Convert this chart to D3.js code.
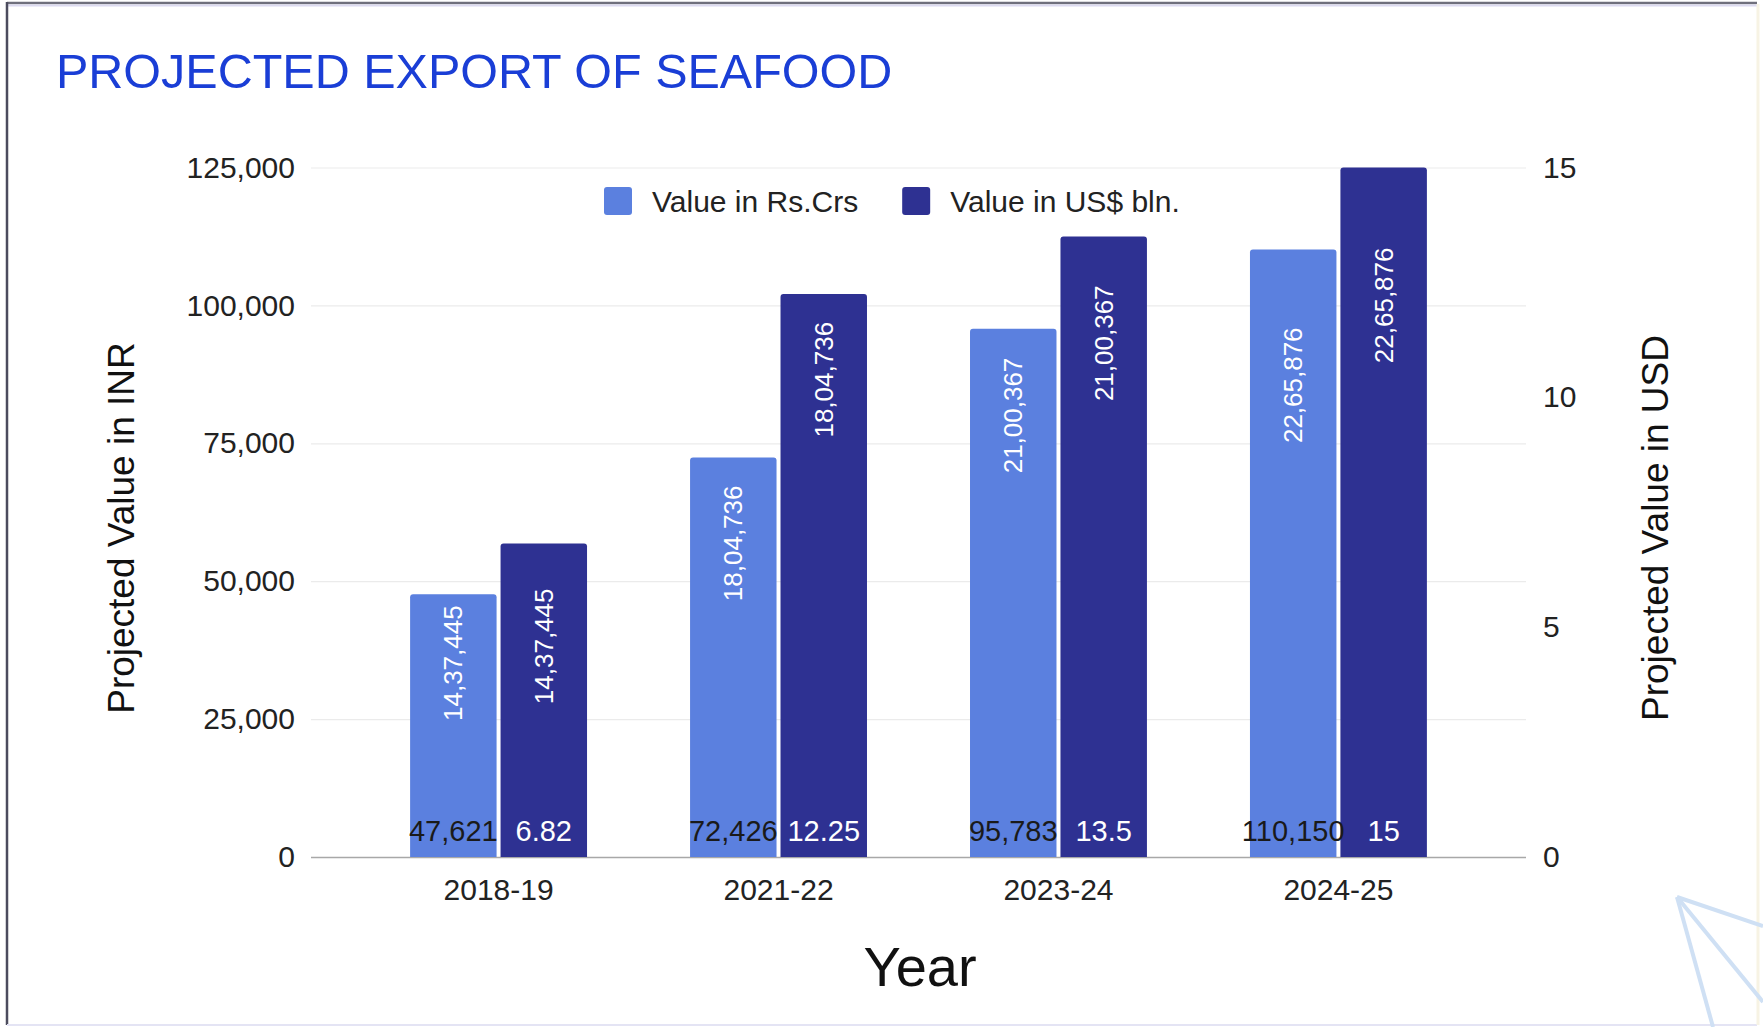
<!DOCTYPE html>
<html>
<head>
<meta charset="utf-8">
<script src="https://cdn.jsdelivr.net/npm/d3@7"></script>
<style>
  body { margin: 0; background: #fff; }
  svg { display: block; font-family: "Liberation Sans", Arial, sans-serif; }
</style>
</head>
<body>
<svg id="chart" width="1763" height="1027"></svg>
<script>
// data
var years = ["2018-19", "2021-22", "2023-24", "2024-25"];
var seriesNames = ["Value in Rs.Crs", "Value in US$ bln."];
var valueInr = [47621, 72426, 95783, 110150];
var valueUsd = [6.82, 12.25, 13.5, 15];
var annoInr = ["14,37,445", "18,04,736", "21,00,367", "22,65,876"];
var annoUsd = ["14,37,445", "18,04,736", "21,00,367", "22,65,876"];
var inrTicks = [0, 25000, 50000, 75000, 100000, 125000];
var usdTicks = [0, 5, 10, 15];

var svg = d3.select("#chart");
var W = 1763, H = 1027;

var colLight = "#5b80df", colDark = "#2e3192";

// plot box
var plotL = 311, plotR = 1526, plotT = 167.5, plotB = 857;

var x0 = d3.scaleBand().domain(years).range([plotL, plotR])
    .paddingInner(0.368).paddingOuter(0.354);
var x1 = d3.scaleBand().domain([0, 1]).range([0, x0.bandwidth()]).paddingInner(0.044);
var yL = d3.scaleLinear().domain([0, 125000]).range([plotB, plotT]);
var yR = d3.scaleLinear().domain([0, 15]).range([plotB, plotT]);

// frame of the slide
svg.append("rect").attr("x", 0).attr("y", 0).attr("width", W).attr("height", H).attr("fill", "#fff");
svg.append("line").attr("x1", 7).attr("x2", 1757).attr("y1", 3).attr("y2", 3)
    .attr("stroke", "#6f6f7c").attr("stroke-width", 2.5);
svg.append("line").attr("x1", 7).attr("x2", 1757).attr("y1", 5.5).attr("y2", 5.5)
    .attr("stroke", "#dcdaf0").attr("stroke-width", 2);
svg.append("line").attr("x1", 7).attr("x2", 7).attr("y1", 2).attr("y2", 1025)
    .attr("stroke", "#4c4c5e").attr("stroke-width", 2.5);
svg.append("line").attr("x1", 7).attr("x2", 1757).attr("y1", 1025).attr("y2", 1025)
    .attr("stroke", "#e4e4f4").attr("stroke-width", 2);
svg.append("line").attr("x1", 1758).attr("x2", 1758).attr("y1", 4).attr("y2", 1025)
    .attr("stroke", "#f7f3e4").attr("stroke-width", 3);

// paper plane decoration bottom right
var deco = svg.append("g").attr("stroke", "#cfe0f4").attr("stroke-width", 4).attr("fill", "none");
deco.append("path").attr("d", "M1677,897 L1763,926");
deco.append("path").attr("d", "M1677,897 L1713,1027");
deco.append("path").attr("d", "M1677,897 L1763,1002");

// title
svg.append("text").attr("x", 56).attr("y", 88)
    .attr("fill", "#1a3ed6").attr("font-size", 48.5)
    .text("PROJECTED EXPORT OF SEAFOOD");

// gridlines
var grid = svg.append("g").attr("transform", "translate(" + plotL + ",0)")
    .call(d3.axisLeft(yL).tickValues(inrTicks).tickSize(-(plotR - plotL)).tickFormat(""));
grid.select(".domain").remove();
grid.selectAll(".tick line").attr("stroke", function (d) { return d === 0 ? "#a8a8a8" : "#ebebeb"; })
    .attr("stroke-width", function (d) { return d === 0 ? 1.5 : 1.2; });

// left axis
var axL = svg.append("g").attr("transform", "translate(" + plotL + ",0)")
    .call(d3.axisLeft(yL).tickValues(inrTicks).tickSize(0).tickPadding(16).tickFormat(d3.format(",")));
axL.select(".domain").remove();
axL.selectAll("text").attr("font-size", 30).attr("fill", "#222").attr("font-family", null);

// right axis
var axR = svg.append("g").attr("transform", "translate(" + plotR + ",0)")
    .call(d3.axisRight(yR).tickValues(usdTicks).tickSize(0).tickPadding(17));
axR.select(".domain").remove();
axR.selectAll("text").attr("font-size", 30).attr("fill", "#222").attr("font-family", null);

// x axis
var axX = svg.append("g").attr("transform", "translate(0," + plotB + ")")
    .call(d3.axisBottom(x0).tickSize(0).tickPadding(22));
axX.select(".domain").remove();
axX.selectAll("text").attr("font-size", 30).attr("fill", "#222").attr("font-family", null);

// bars
function barPath(x, y, w, h, r) {
    return "M" + x + "," + (y + h) + "V" + (y + r) + "Q" + x + "," + y + " " + (x + r) + "," + y +
        "H" + (x + w - r) + "Q" + (x + w) + "," + y + " " + (x + w) + "," + (y + r) + "V" + (y + h) + "Z";
}

var rows = years.map(function (yr, i) {
    return [
        { year: yr, s: 0, v: valueInr[i], y: yL(valueInr[i]), label: d3.format(",")(valueInr[i]), anno: annoInr[i] },
        { year: yr, s: 1, v: valueUsd[i], y: yR(valueUsd[i]), label: String(valueUsd[i]), anno: annoUsd[i] }
    ];
});

// label offsets below bar tops for the rotated annotations
var annoGap = [[11, 45], [28, 28], [29, 49], [78, 80]];

var groups = svg.append("g").selectAll("g").data(rows).enter().append("g")
    .attr("transform", function (d) { return "translate(" + x0(d[0].year) + ",0)"; });

groups.selectAll("path").data(function (d) { return d; }).enter().append("path")
    .attr("d", function (d) { return barPath(x1(d.s), d.y, x1.bandwidth(), plotB - d.y, 3); })
    .attr("fill", function (d) { return d.s === 0 ? colLight : colDark; });

groups.selectAll(".base-label").data(function (d) { return d; }).enter().append("text")
    .attr("class", "base-label")
    .attr("x", function (d) { return x1(d.s) + x1.bandwidth() / 2; })
    .attr("y", plotB - 16)
    .attr("text-anchor", "middle")
    .attr("font-size", 29)
    .attr("fill", function (d) { return d.s === 0 ? "#1a1a1a" : "#fff"; })
    .text(function (d) { return d.label; });

groups.each(function (d, i) {
    d3.select(this).selectAll(".anno").data(d).enter().append("text")
        .attr("class", "anno")
        .attr("transform", function (e) {
            return "translate(" + (x1(e.s) + x1.bandwidth() / 2) + "," + (e.y + annoGap[i][e.s]) + ") rotate(-90)";
        })
        .attr("dy", "0.35em")
        .attr("text-anchor", "end")
        .attr("font-size", 26)
        .attr("fill", "#fff")
        .text(function (e) { return e.anno; });
});

// legend
var legend = svg.append("g").attr("transform", "translate(604,187)");
var lx = 0;
seriesNames.forEach(function (name, i) {
    legend.append("rect").attr("x", lx).attr("y", 0).attr("width", 28).attr("height", 28)
        .attr("rx", 3).attr("fill", i === 0 ? colLight : colDark);
    var t = legend.append("text").attr("x", lx + 48).attr("y", 25)
        .attr("font-size", 30).attr("fill", "#222").text(name);
    lx += 48 + t.node().getComputedTextLength() + 44;
});

// axis titles
svg.append("text").attr("transform", "translate(134,528) rotate(-90)")
    .attr("text-anchor", "middle").attr("font-size", 37).attr("fill", "#111")
    .text("Projected Value in INR");
svg.append("text").attr("transform", "translate(1668,528) rotate(-90)")
    .attr("text-anchor", "middle").attr("font-size", 37).attr("fill", "#111")
    .text("Projected Value in USD");
svg.append("text").attr("x", 920).attr("y", 986)
    .attr("text-anchor", "middle").attr("font-size", 56).attr("fill", "#111")
    .text("Year");
</script>
</body>
</html>
